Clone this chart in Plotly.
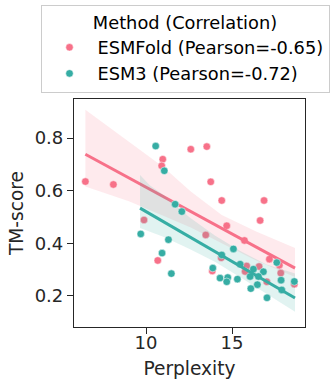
import plotly.graph_objects as go

# Perplexity vs TM-score per method
methods = ["ESMFold", "ESM3"]
pearson = [-0.65, -0.72]
colors = ["#f77189", "#36ada4"]
band_colors = ["rgba(247,113,137,0.15)", "rgba(54,173,164,0.15)"]

esmfold_perplexity = [6.47, 8.10, 12.60, 10.97, 10.91, 13.53, 13.76, 14.40, 16.86, 9.88,
                      10.68, 16.63, 14.69, 13.47, 15.72, 14.37, 17.17, 17.75, 17.83, 13.85,
                      15.85, 16.57, 15.76, 17.02, 18.62]
esmfold_tm = [0.635, 0.624, 0.758, 0.720, 0.695, 0.768, 0.634, 0.563, 0.563, 0.489,
              0.335, 0.487, 0.467, 0.432, 0.411, 0.345, 0.340, 0.317, 0.287, 0.295,
              0.314, 0.312, 0.293, 0.254, 0.245]

esm3_perplexity = [10.56, 11.06, 11.69, 12.08, 9.69, 11.30, 10.93, 11.47, 14.40, 15.08,
                   17.60, 13.88, 15.47, 16.24, 16.82, 16.05, 16.53, 14.30, 14.75, 14.69,
                   15.31, 17.85, 18.62, 16.47, 16.09, 17.89, 17.03]
esm3_tm = [0.770, 0.676, 0.549, 0.521, 0.436, 0.414, 0.363, 0.285, 0.356, 0.379,
           0.327, 0.306, 0.321, 0.302, 0.292, 0.274, 0.274, 0.268, 0.270, 0.254,
           0.264, 0.260, 0.255, 0.243, 0.228, 0.223, 0.193]

# Regression fits and their confidence bands
esmfold_fit_x = [6.47, 18.66]
esmfold_fit_y = [0.739, 0.306]
esmfold_band_x = [6.47, 9.0, 11.0, 12.6, 14.4, 16.4, 18.66]
esmfold_band_hi = [0.908, 0.785, 0.690, 0.597, 0.508, 0.445, 0.382]
esmfold_band_lo = [0.616, 0.560, 0.505, 0.460, 0.400, 0.335, 0.272]

esm3_fit_x = [9.65, 18.66]
esm3_fit_y = [0.534, 0.192]
esm3_band_x = [9.65, 10.23, 11.0, 12.5, 14.0, 15.5, 17.0, 18.66]
esm3_band_hi = [0.660, 0.620, 0.585, 0.500, 0.430, 0.370, 0.320, 0.285]
esm3_band_lo = [0.458, 0.444, 0.425, 0.380, 0.330, 0.270, 0.210, 0.140]

series = [
    (esmfold_perplexity, esmfold_tm, esmfold_fit_x, esmfold_fit_y,
     esmfold_band_x, esmfold_band_hi, esmfold_band_lo),
    (esm3_perplexity, esm3_tm, esm3_fit_x, esm3_fit_y,
     esm3_band_x, esm3_band_hi, esm3_band_lo),
]

x_ticks = [10, 15]
y_ticks = [0.2, 0.4, 0.6, 0.8]

FONT = "DejaVu Sans"
INK = "#262626"

fig = go.Figure()
for i, (px, ty, fx, fy, bx, bhi, blo) in enumerate(series):
    fig.add_trace(go.Scatter(
        x=px, y=ty, mode="markers",
        name=f"{methods[i]} (Pearson={pearson[i]:.2f})",
        marker=dict(size=7.5, color=colors[i], line=dict(color="white", width=0.5)),
        showlegend=True,
    ))
    fig.add_trace(go.Scatter(
        x=bx + bx[::-1], y=bhi + blo[::-1], mode="lines",
        fill="toself", fillcolor=band_colors[i],
        line=dict(width=0), hoverinfo="skip", showlegend=False,
    ))
    fig.add_trace(go.Scatter(
        x=fx, y=fy, mode="lines",
        line=dict(color=colors[i], width=3),
        hoverinfo="skip", showlegend=False,
    ))

axis_common = dict(
    showgrid=False, zeroline=False,
    showline=True, mirror=True, linecolor=INK, linewidth=1.25,
    ticks="outside", ticklen=6, tickwidth=1.25, tickcolor=INK,
    tickfont=dict(family=FONT, size=18, color=INK),
)

fig.update_layout(
    width=331, height=379,
    margin=dict(l=74, r=26, t=99, b=52, autoexpand=False),
    plot_bgcolor="white", paper_bgcolor="white",
    font=dict(family=FONT, color=INK),
    xaxis=dict(range=[5.81, 19.24], tickvals=x_ticks, ticklabelstandoff=-7,
               title=dict(text="Perplexity", font=dict(family=FONT, size=18.6, color=INK), standoff=12),
               **axis_common),
    yaxis=dict(range=[0.082, 0.949], tickvals=y_ticks, tickformat=".1f",
               title=dict(text="TM-score", font=dict(family=FONT, size=18.6, color=INK), standoff=6),
               **axis_common),
    legend=dict(
        x=-0.145, y=1.412, xanchor="left", yanchor="top",
        bordercolor="#cccccc", borderwidth=1, bgcolor="white",
        font=dict(family=FONT, size=17.8, color="black"),
        title=dict(text="Method (Correlation)", side="top center",
                   font=dict(family=FONT, size=17.8, color="black")),
        itemwidth=46,
    ),
)

fig.write_html("out.html")
